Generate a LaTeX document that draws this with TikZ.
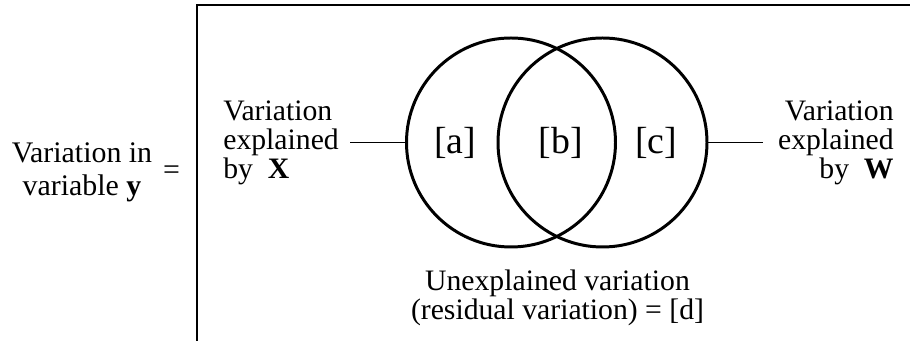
\documentclass[tikz,border=0pt]{standalone}
\usepackage{fontspec}
\setmainfont{Liberation Serif}
\usepackage{tikz}
\tikzset{
  setcircle/.style={draw, circle, line width=1.7pt, minimum size=4.18cm, inner sep=0pt},
  framebox/.style={draw, line width=1.1pt},
  tieline/.style={line width=0.7pt},
  sidelabel/.style={inner sep=0pt, font=\fontsize{16.9}{16.5}\selectfont},
  mainlabel/.style={inner sep=0pt, align=center, font=\fontsize{17}{18.8}\selectfont},
  regionlabel/.style={inner sep=0pt, font=\fontsize{21.5}{22}\selectfont}
}
\begin{document}
\begin{tikzpicture}
  \useasboundingbox (0,0) rectangle (18.2,6.82);
  % open frame round the diagram
  \draw[framebox] (3.94,-0.2) |- (18.5,6.72);
  \node[mainlabel] (total) at (1.64,3.38) {Variation in\\ variable \textbf{y}};
  \node[mainlabel] (eq) at (3.43,3.36) {=};
  \node[setcircle] (setX) at (10.22,3.97) {};
  \node[setcircle] (setW) at (12.05,3.97) {};
  \node[regionlabel] (ra) at (9.10,3.97) {[a]};
  \node[regionlabel] (rb) at (11.22,3.97) {[b]};
  \node[regionlabel] (rc) at (13.12,3.97) {[c]};
  \node[sidelabel, align=left, anchor=west] (lblX) at (4.46,3.97) {Variation\\ explained\\ by \ \textbf{X}};
  \node[sidelabel, align=right, anchor=east] (lblW) at (17.88,3.97) {Variation\\ explained\\ by \ \textbf{W}};
  \node[sidelabel, align=center] (resid) at (11.15,0.86) {Unexplained variation\\ (residual variation) = [d]};
  \draw[tieline, shorten <=0.22cm] (lblX.east) -- (setX.west);
  \draw[tieline, shorten <=0.30cm] (lblW.west) -- (setW.east);
\end{tikzpicture}
\end{document}
